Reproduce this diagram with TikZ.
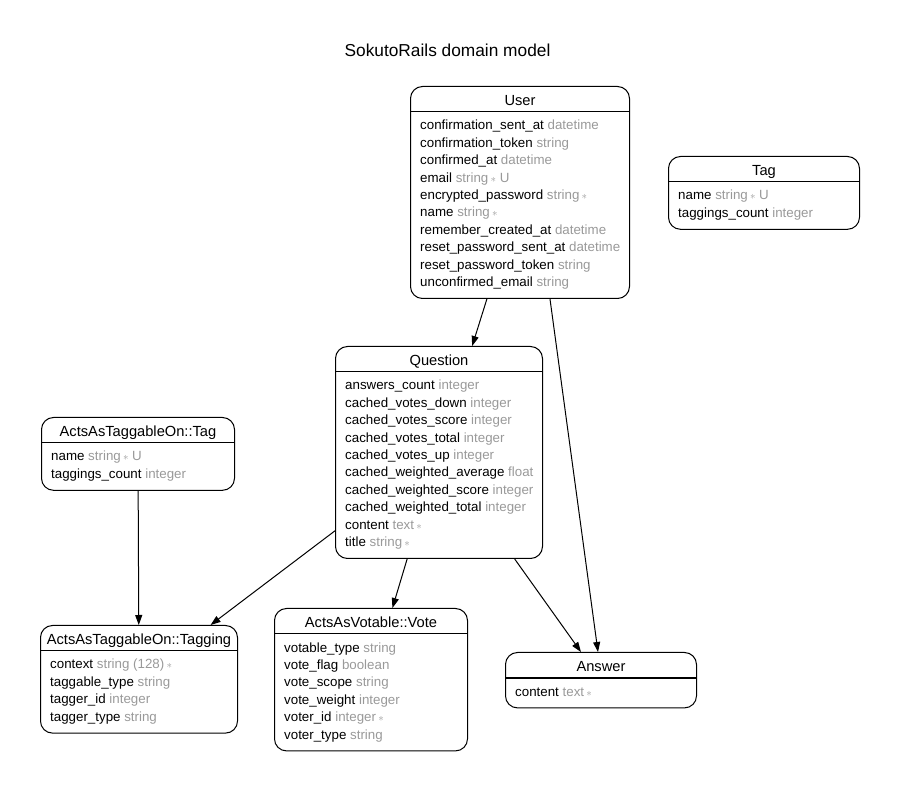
\documentclass[tikz,border=0pt]{standalone}
\usepackage{fontspec}
\setmainfont{Liberation Sans}
\usetikzlibrary{calc,arrows.meta,positioning}
\definecolor{typegray}{HTML}{999999}
\tikzset{entity/.style = {rectangle, draw, line width=1pt, rounded corners=12pt, inner sep=0pt},
    ehead/.style = {inner sep=0pt, font=\fontsize{14.67}{17.4}\selectfont},
    field/.style = {inner sep=0pt, anchor=base west, font=\fontsize{13.33}{16}\selectfont},
    rel/.style = {-{Triangle[length=10pt,width=7pt]}, line width=1pt}
}
\newcommand\req{\,{\fontsize{11}{11}\selectfont$\ast$}}
% #1 name, #2 top left, #3 width, #4 number of rows, #5 title, #6 rows
\newcommand\Entity[6]{%
    \node[entity, minimum width=#3pt, minimum height={55.4pt+(#4-1)*17.4pt}, anchor=north west] (#1) at (#2) {};
    \node[ehead, anchor=base] (#1-t) at ($(#1.north)+(0,19.5)$) {#5};
    \draw[line width=1pt] ($(#1.north west)+(0,26)$) -- ($(#1.north east)+(0,26)$);
    \foreach \n/\t [count=\i from 0] in {#6}
        \node[field] at ($(#1.north west)+(10,{44+17.4*\i})$) {\n\ \textcolor{typegray}{\t}};
}

\begin{document}
\begin{tikzpicture}[x=1pt,y=-1pt]
    \useasboundingbox (0,0) rectangle (898,791);
    \node[inner sep=0pt, anchor=base, font=\fontsize{17.3}{20}\selectfont] (title) at (447.5,56.5) {SokutoRails domain model};

    \Entity{user}{410,86}{219}{10}{User}{confirmation\_sent\_at/datetime, confirmation\_token/string,
        confirmed\_at/datetime, email/string\req\ U, encrypted\_password/string\req, name/string\req,
        remember\_created\_at/datetime, reset\_password\_sent\_at/datetime, reset\_password\_token/string,
        unconfirmed\_email/string}
    \Entity{tag}{668,156}{191}{2}{Tag}{name/string\req\ U, taggings\_count/integer}
    \Entity{question}{335,346}{207}{10}{Question}{answers\_count/integer, cached\_votes\_down/integer,
        cached\_votes\_score/integer, cached\_votes\_total/integer, cached\_votes\_up/integer,
        cached\_weighted\_average/float, cached\_weighted\_score/integer, cached\_weighted\_total/integer,
        content/text\req, title/string\req}
    \Entity{aatag}{41,417}{193}{2}{ActsAsTaggableOn::Tag}{name/string\req\ U, taggings\_count/integer}
    \Entity{tagging}{40,625}{197}{4}{ActsAsTaggableOn::Tagging}{context/string (128)\req,
        taggable\_type/string, tagger\_id/integer, tagger\_type/string}
    \Entity{vote}{274,608}{193}{6}{ActsAsVotable::Vote}{votable\_type/string, vote\_flag/boolean,
        vote\_scope/string, vote\_weight/integer, voter\_id/integer\req, voter\_type/string}
    \Entity{answer}{505,652}{191}{1}{Answer}{content/text\req}

    % associations
    \draw[rel] (user) -- (question);
    \draw[rel] ($(user.south west)+(140,0)$) -- ($(answer.north west)+(93,0)$);
    \draw[rel] (question) -- (tagging);
    \draw[rel] (question) -- (vote);
    \draw[rel] (question) -- (answer);
    \draw[rel] (aatag) -- (tagging);
\end{tikzpicture}
\end{document}
